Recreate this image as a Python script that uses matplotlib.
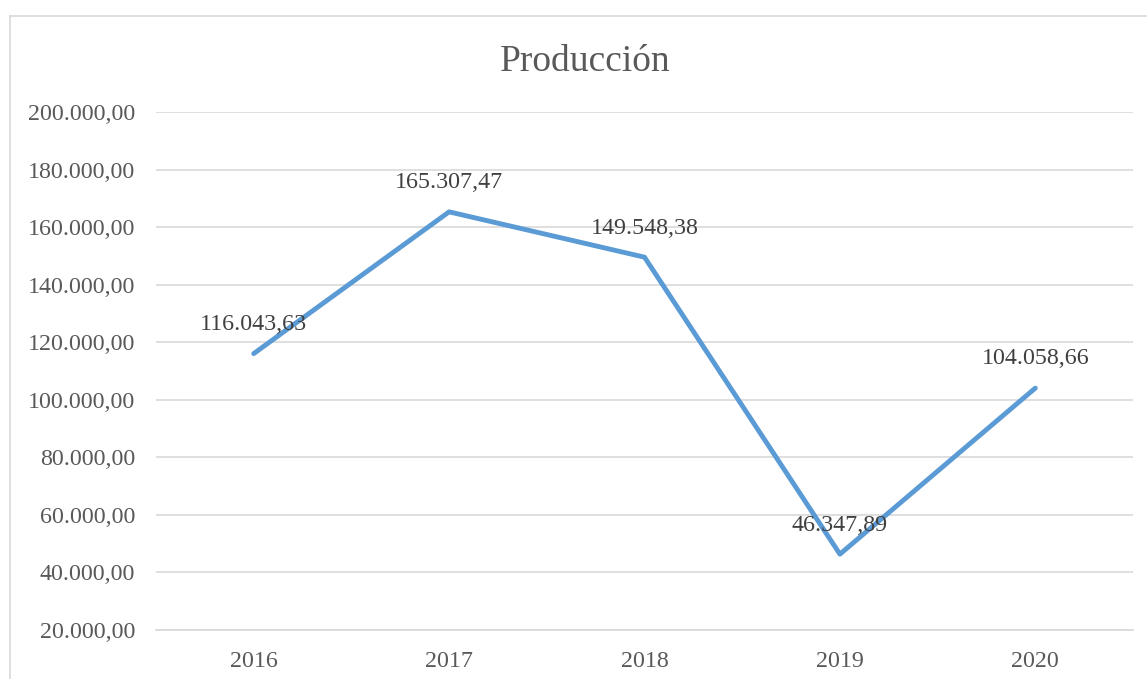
import matplotlib.pyplot as plt
from matplotlib.lines import Line2D
from matplotlib.ticker import FuncFormatter

# data
years = ['2016', '2017', '2018', '2019', '2020']
produccion = [116043.63, 165307.47, 149548.38, 46347.89, 104058.66]
y_ticks = [20000, 40000, 60000, 80000, 100000, 120000, 140000, 160000, 180000, 200000]


def fmt_es(v, pos=None):
    s = f"{v:,.2f}"
    return s.replace(',', 'X').replace('.', ',').replace('X', '.')


plt.rcParams['font.family'] = ['Liberation Serif', 'DejaVu Serif']

W, H = 1147, 679
fig = plt.figure(figsize=(W / 100, H / 100), dpi=100)
ax = fig.add_axes([156 / W, 1 - 630 / H, (1133 - 156) / W, (630 - 112) / H])

x = list(range(len(years)))
ax.plot(x, produccion, color='#5b9bd5', linewidth=3.5, solid_capstyle='round',
        solid_joinstyle='round', zorder=3)
for xi, v in zip(x, produccion):
    ax.annotate(fmt_es(v), (xi, v), textcoords='offset points', xytext=(0, 21),
                ha='center', va='center', fontsize=17.3, color='#404040', zorder=4)

ax.set_xlim(-0.5, len(years) - 0.5)
ax.set_ylim(20000, 200000)
ax.set_yticks(y_ticks)
ax.yaxis.set_major_formatter(FuncFormatter(fmt_es))
ax.set_xticks(x)
ax.set_xticklabels(years)
ax.tick_params(axis='y', length=0, pad=15, labelsize=17.3, labelcolor='#595959')
ax.tick_params(axis='x', length=0, pad=15, labelsize=17.3, labelcolor='#595959')
ax.grid(axis='y', color='#d9d9d9', linewidth=1.2)
ax.set_axisbelow(True)
for side in ['top', 'right', 'left']:
    ax.spines[side].set_visible(False)
ax.spines['bottom'].set_color('#d9d9d9')
ax.spines['bottom'].set_linewidth(1.2)

fig.text(585 / W, 1 - 62 / H, 'Producción', ha='center', va='center',
         fontsize=27, color='#595959')

# chart area border (cut off at right and bottom)
bx, by = 10 / W, 1 - 16 / H
fig.add_artist(Line2D([bx, bx], [0, by], color='#d9d9d9', linewidth=1.2))
fig.add_artist(Line2D([bx, 1], [by, by], color='#d9d9d9', linewidth=1.2))

fig.savefig('out.png', dpi=100, facecolor='white')
